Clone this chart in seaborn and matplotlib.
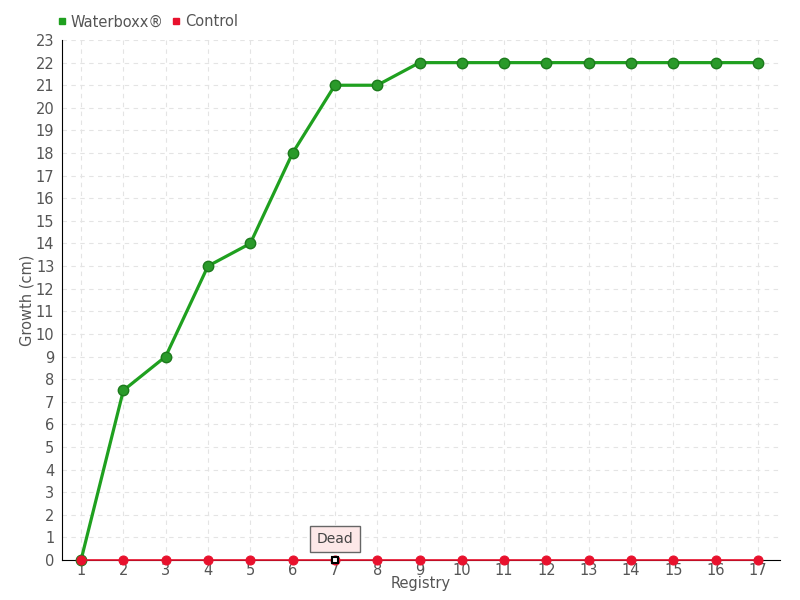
import matplotlib
matplotlib.use("Agg")
import matplotlib.pyplot as plt
import seaborn as sns
import pandas as pd
from matplotlib.lines import Line2D

registry = list(range(1, 18))
waterboxx = [0, 7.5, 9, 13, 14, 18, 21, 21, 22, 22, 22, 22, 22, 22, 22, 22, 22]
control = [0] * 17
dead_at = 7

sns.set_style("white")
plt.rcParams['font.family'] = ['Liberation Sans Narrow', 'DejaVu Sans']

df = pd.DataFrame({"Registry": registry, "Waterboxx®": waterboxx, "Control": control})

fig = plt.figure(figsize=(8, 6), dpi=100)
ax = fig.add_axes([0.0775, 0.0667, 0.8975, 0.8666])

green = "#1fa01f"
red = "#e8112d"

sns.lineplot(data=df, x="Registry", y="Waterboxx®", ax=ax, color=green, lw=2.3,
             marker="o", markersize=7.5, markerfacecolor="#2a9a2a",
             markeredgecolor="#1c7a1c", markeredgewidth=1, zorder=3, clip_on=False)
sns.lineplot(data=df, x="Registry", y="Control", ax=ax, color=red, lw=1.2,
             marker="o", markersize=6.5, markerfacecolor=red,
             markeredgecolor=red, zorder=4, clip_on=False)
# hovered point
ax.plot([dead_at], [0], marker="s", ms=4.5, mfc="white", mec="black", mew=1.5,
        zorder=5, clip_on=False)
ax.annotate("Dead", xy=(dead_at, 0), xytext=(0, 15), textcoords="offset points",
            ha="center", va="center", fontsize=10, color="#444444",
            bbox=dict(boxstyle="square,pad=0.45", fc="#fde8e8", ec="#666666", lw=1))

ax.set_xlim(0.55, 17.52)
ax.set_ylim(0, 23)
ax.set_xticks(registry)
ax.set_yticks(range(0, 24))
ax.tick_params(axis="y", colors="#555555", labelsize=10.5, length=4,
               direction="inout", width=1)
ax.tick_params(axis="x", colors="#555555", labelsize=10.5, length=0, pad=2)
ax.grid(True, ls=(0, (4, 4)), color="#e4e4e4", lw=0.8)
for s in ["top", "right"]:
    ax.spines[s].set_visible(False)
ax.spines["left"].set_color("black")
ax.spines["bottom"].set_color("black")
ax.set_xlabel("Registry", color="#555555", fontsize=10.5, labelpad=-1)
ax.set_ylabel("Growth (cm)", color="#555555", fontsize=10.5, labelpad=1)

handles = [Line2D([], [], ls="", marker="s", ms=5, color=green),
           Line2D([], [], ls="", marker="s", ms=5, color=red)]
fig.legend(handles, ["Waterboxx®", "Control"], loc="upper left",
           bbox_to_anchor=(0.055, 0.998), ncol=2, frameon=False, fontsize=10.5,
           handlelength=0.6, handletextpad=0.3, columnspacing=0.6,
           labelcolor="#555555")

fig.savefig("out.png", dpi=100)
